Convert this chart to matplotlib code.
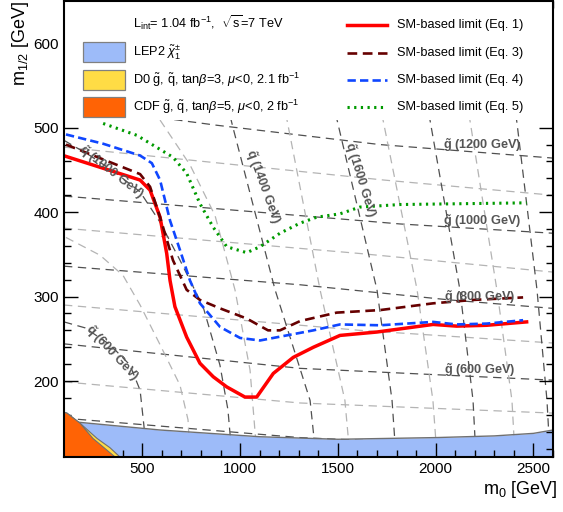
import matplotlib
matplotlib.use("Agg")
import matplotlib.pyplot as plt
from matplotlib.patches import Rectangle
from matplotlib.ticker import MultipleLocator

plt.rcParams['font.family'] = ['Liberation Sans', 'DejaVu Sans']
plt.rcParams['mathtext.fontset'] = 'custom'
plt.rcParams['mathtext.rm'] = 'Liberation Sans'
plt.rcParams['mathtext.it'] = 'Liberation Sans:italic'
plt.rcParams['mathtext.bf'] = 'Liberation Sans:bold'
plt.rcParams['lines.scale_dashes'] = False

# ---------------- data ----------------
red_m0  = [110, 489, 540, 591, 625, 642, 667, 727, 795, 863, 932, 1025, 1085, 1170, 1272, 1375, 1511, 1699, 1987, 2107, 2261, 2465]
red_m12 = [466, 438, 426, 394, 351, 319, 288, 252, 221, 205, 193, 181, 181, 209, 228, 240, 254, 258, 267, 265, 266, 270]

dred_m0  = [110, 489, 540, 591, 657, 727, 795, 898, 1034, 1143, 1204, 1307, 1494, 1716, 1987, 2190, 2447]
dred_m12 = [480, 445, 430, 394, 343, 308, 296, 286, 274, 260, 260, 271, 281, 284, 292, 296, 299]

blue_m0  = [110, 300, 489, 549, 591, 642, 693, 744, 795, 898, 1000, 1102, 1238, 1375, 1511, 1716, 1987, 2107, 2261, 2447]
blue_m12 = [492, 481, 467, 458, 438, 390, 355, 319, 292, 264, 251, 248, 254, 260, 267, 266, 270, 267, 268, 272]

green_m0  = [300, 472, 657, 727, 795, 863, 932, 1034, 1102, 1204, 1307, 1392, 1511, 1613, 1818, 2465]
green_m12 = [505, 491, 465, 446, 410, 382, 359, 352, 359, 375, 387, 394, 398, 406, 409, 411]

lep_m0  = [100, 182, 591, 1102, 1500, 2000, 2300, 2500, 2600]
lep_m12 = [152, 151, 142, 134, 131, 133, 135, 138, 142]

d0_m0  = [100, 115, 182, 269, 335, 386]
d0_m12 = [163, 162, 150, 132, 121, 110]

cdf_m0  = [100, 115, 182, 248, 320, 361]
cdf_m12 = [163, 162, 150, 132, 118, 110]

# gluino iso-mass lines: mass -> (m0 list, m12 list)
gluino_lines = {
    1200: ([100, 877, 1715, 2600], [527, 503, 480, 464]),
    1100: ([100, 897, 1735, 2600], [477, 458, 438, 420]),
    1000: ([100, 1613, 1818, 2600], [419, 390, 386, 375]),
    900:  ([100, 1613, 2600], [381, 351, 329]),
    800:  ([100, 1306, 2073, 2600], [336, 314, 296, 286]),
    700:  ([100, 1613, 2600], [290, 260, 245]),
    600:  ([100, 1306, 2600], [244, 215, 201]),
    500:  ([100, 1306, 2600], [199, 174, 162]),
    400:  ([100, 1306, 2600], [156, 133, 120]),
}
# squark iso-mass lines
squark_lines = {
    600:  ([100, 207, 335, 437, 489, 509, 519], [270, 263, 243, 219, 189, 146, 110]),
    700:  ([110, 284, 402, 489, 591, 693, 734, 744], [370, 349, 325, 290, 243, 195, 154, 110]),
    1000: ([100, 233, 361, 489, 591, 693, 811, 897, 938, 959], [485, 467, 447, 424, 388, 343, 288, 219, 166, 110]),
    1100: ([591, 744, 872, 974, 1051, 1087], [509, 456, 396, 308, 213, 110]),
    1400: ([933, 964, 1179, 1358, 1388], [529, 500, 308, 177, 110]),
    1500: ([1209, 1240, 1409, 1536, 1562], [532, 509, 308, 177, 110]),
    1600: ([1470, 1496, 1700, 1777, 1797], [532, 509, 308, 177, 110]),
    1700: ([1710, 1731, 1905, 1986, 2007], [532, 509, 308, 177, 110]),
    1800: ([1951, 1971, 2124, 2191, 2206], [532, 509, 308, 177, 110]),
    1900: ([2155, 2175, 2313, 2390, 2406], [532, 509, 308, 177, 110]),
    2000: ([2400, 2416, 2518, 2569, 2585], [532, 505, 308, 177, 110]),
}

gluino_labels = [(1200, 2237, 479), (1000, 2237, 389), (800, 2227, 299), (600, 2227, 213)]
squark_labels = [(1000, 345, 447, -38), (600, 345, 233, -47), (1400, 1117, 430, -70), (1600, 1613, 438, -73)]

legend_lines = ['SM-based limit (Eq. 1)', 'SM-based limit (Eq. 3)', 'SM-based limit (Eq. 4)', 'SM-based limit (Eq. 5)']

# ---------------- figure ----------------
fig = plt.figure(figsize=(5.63, 5.12), dpi=100)
ax = fig.add_axes([0.1137, 0.1074, 0.8686, 0.8906])
ax.set_xlim(100, 2600)
ax.set_ylim(110, 650)

DARK = '#505050'
LIGHT = '#b4b4b4'
for m, (xs, ys) in gluino_lines.items():
    c = DARK if m % 200 == 0 else LIGHT
    ax.plot(xs, ys, color=c, lw=0.9, ls=(0, (6, 4)), zorder=1)
for m, (xs, ys) in squark_lines.items():
    c = DARK if m % 200 == 0 else LIGHT
    ax.plot(xs, ys, color=c, lw=0.9, ls=(0, (6, 4)), zorder=1)

# excluded regions
ax.fill_between(lep_m0, 110, lep_m12, color='#9dbbf9', lw=0, zorder=1.5)
ax.plot(lep_m0, lep_m12, color='#707070', lw=1.0, zorder=1.6)
ax.fill_between(d0_m0, 110, d0_m12, color='#ffdc45', lw=0, zorder=1.7)
ax.plot(d0_m0, d0_m12, color='#707070', lw=0.8, zorder=1.75)
ax.fill_between(cdf_m0, 110, cdf_m12, color='#ff6305', lw=0, zorder=1.8)
ax.plot(cdf_m0, cdf_m12, color='#707070', lw=0.8, zorder=1.85)

# limits
ax.plot(red_m0, red_m12, color='#ff0000', lw=2.5, zorder=2.0, solid_joinstyle='round')
ax.plot(dred_m0, dred_m12, color='#660000', lw=1.9, ls=(0, (7, 4)), zorder=2.0)
ax.plot(blue_m0, blue_m12, color='#0f46ff', lw=1.9, ls=(0, (6, 3)), zorder=2.0)
ax.plot(green_m0, green_m12, color='#009a00', lw=2.2, ls=(0, (1.6, 3.2)), zorder=2.0)

# mass labels
lfs = 9.2
for m, x, y in gluino_labels:
    ax.text(x, y, r'$\mathbf{\tilde{g}}$ (%d GeV)' % m, color='#555555', fontsize=lfs,
            fontweight='bold', ha='center', va='center', zorder=2.1)
for m, x, y, r in squark_labels:
    ax.text(x, y, r'$\mathbf{\tilde{q}}$ (%d GeV)' % m, color='#555555', fontsize=lfs,
            fontweight='bold', ha='center', va='center', rotation=r, rotation_mode='anchor', zorder=2.1)

# legend area (white)
ax.add_patch(Rectangle((0, 0.74), 1, 0.26, transform=ax.transAxes, facecolor='white',
                       edgecolor='none', zorder=2.2))

fs = 9.2
ax.text(0.141, 0.952, r'L$_{\rm int}$= 1.04 fb$^{-1}$,  $\sqrt{\rm s}$=7 TeV', transform=ax.transAxes,
        fontsize=fs, va='center', ha='left', zorder=3)
boxes = [('#9dbbf9', r'LEP2 $\tilde{\chi}^{\pm}_{1}$', 0.888),
         ('#ffdc45', r'D0 $\tilde{\rm g}$, $\tilde{\rm q}$, tan$\beta$=3, $\mu$<0, 2.1 fb$^{-1}$', 0.827),
         ('#ff6305', r'CDF $\tilde{\rm g}$, $\tilde{\rm q}$, tan$\beta$=5, $\mu$<0, 2 fb$^{-1}$', 0.7675)]
for col, lab, yc in boxes:
    ax.add_patch(Rectangle((0.0389, yc - 0.022), 0.0858, 0.044, transform=ax.transAxes,
                           facecolor=col, edgecolor='#808080', lw=0.9, zorder=3))
    ax.text(0.141, yc, lab, transform=ax.transAxes, fontsize=fs, va='center', ha='left', zorder=3)

styles = [dict(color='#ff0000', lw=2.5),
          dict(color='#660000', lw=1.9, ls=(0, (7, 4))),
          dict(color='#0f46ff', lw=1.9, ls=(0, (6, 3))),
          dict(color='#009a00', lw=2.2, ls=(0, (1.6, 3.2)))]
for lab, st, yc in zip(legend_lines, styles, [0.947, 0.886, 0.827, 0.7675]):
    ax.plot([0.579, 0.661], [yc, yc], transform=ax.transAxes, zorder=3, **st)
    ax.text(0.681, yc, lab, transform=ax.transAxes, fontsize=fs, va='center', ha='left', zorder=3)

# axes styling
ax.xaxis.set_major_locator(MultipleLocator(500))
ax.xaxis.set_minor_locator(MultipleLocator(100))
ax.yaxis.set_major_locator(MultipleLocator(100))
ax.yaxis.set_minor_locator(MultipleLocator(20))
ax.tick_params(which='both', direction='in', top=True, right=True, width=1.0, labelsize=11)
ax.tick_params(which='major', length=10)
ax.tick_params(which='minor', length=5)
for s in ax.spines.values():
    s.set_linewidth(1.5)

ax.set_xlabel(r'm$_{0}$ [GeV]', fontsize=13, loc='right')
ax.xaxis.set_label_coords(1.008, -0.048)
ax.set_ylabel(r'm$_{1/2}$ [GeV]', fontsize=13, loc='top')
ax.yaxis.set_label_coords(-0.067, 1.0)

fig.savefig('out.png', dpi=100)
